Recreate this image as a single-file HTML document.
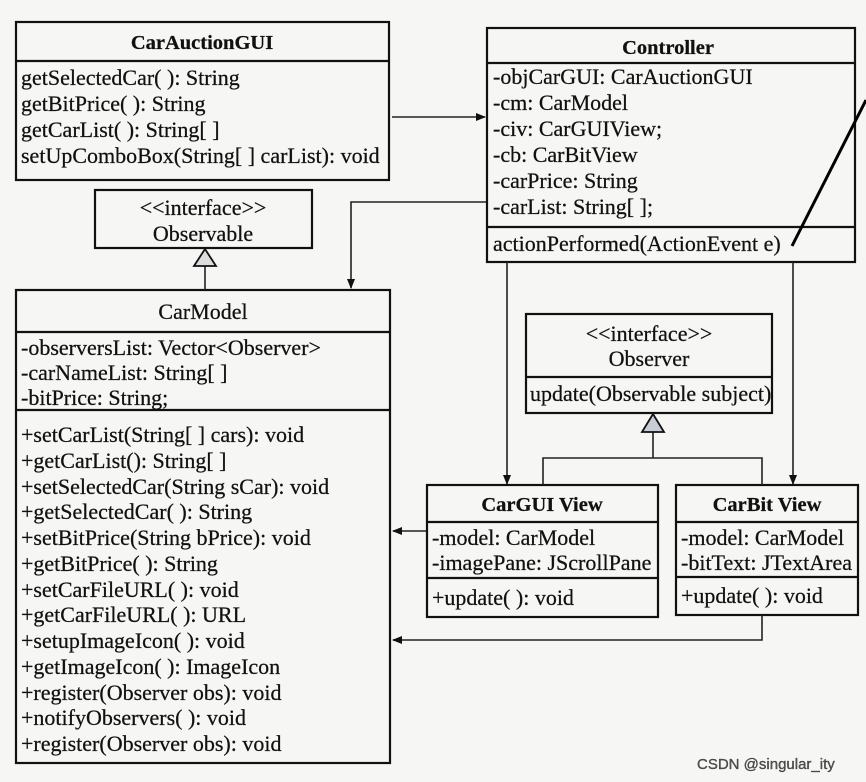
<!DOCTYPE html>
<html><head><meta charset="utf-8"><style>
html,body{margin:0;padding:0;background:#f6f6f4;}
svg{display:block}
text{font-family:"Liberation Serif",serif;font-size:22px;fill:#111;stroke:#111;stroke-width:0.25;}
.b{font-weight:bold;font-size:20.5px}
</style></head><body>
<svg width="866" height="782" viewBox="0 0 866 782" xmlns="http://www.w3.org/2000/svg">
<defs><marker id="a" markerWidth="10" markerHeight="8" refX="9" refY="4" orient="auto" markerUnits="userSpaceOnUse"><path d="M0,0 L10,4 L0,8 Z" fill="#111"/></marker></defs>
<g fill="none" stroke="#111" stroke-width="2.2">
<rect x="16" y="22" width="373" height="158"/><line x1="16" y1="61" x2="389" y2="61"/>
<rect x="487" y="28" width="368" height="234"/><line x1="487" y1="63" x2="855" y2="63"/><line x1="487" y1="227" x2="855" y2="227"/>
<rect x="95" y="190" width="217" height="58"/>
<rect x="16" y="290" width="374" height="473"/><line x1="16" y1="332" x2="390" y2="332"/><line x1="16" y1="410" x2="390" y2="410"/>
<rect x="526" y="314" width="246" height="99"/><line x1="526" y1="377" x2="772" y2="377"/>
<rect x="427" y="485" width="231" height="132"/><line x1="427" y1="522" x2="658" y2="522"/><line x1="427" y1="578" x2="658" y2="578"/>
<rect x="676" y="485" width="182" height="130"/><line x1="676" y1="522" x2="858" y2="522"/><line x1="676" y1="577" x2="858" y2="577"/>
</g>
<g fill="none" stroke="#222" stroke-width="1.6">
<line x1="392" y1="117" x2="485" y2="117" marker-end="url(#a)"/>
<polyline points="486,202 351,202 351,288" marker-end="url(#a)"/>
<line x1="507" y1="262" x2="507" y2="484" marker-end="url(#a)"/>
<line x1="793" y1="262" x2="793" y2="484" marker-end="url(#a)"/>
<line x1="426" y1="531" x2="393" y2="531" marker-end="url(#a)"/>
<polyline points="762,615 762,640 393,640" marker-end="url(#a)"/>
<line x1="205" y1="290" x2="205" y2="266"/>
<polyline points="543,485 543,458 762,458 762,485"/>
<line x1="653" y1="458" x2="653" y2="432"/>
</g>
<path d="M205,249 L194,266 L216,266 Z" fill="#ddd" stroke="#111" stroke-width="1.8"/>
<path d="M653,414 L642,432 L664,432 Z" fill="#c8ccd6" stroke="#111" stroke-width="1.8"/>
<line x1="866" y1="100" x2="792" y2="246" stroke="#000" stroke-width="3"/>
<g>
<text x="202" y="49" text-anchor="middle" class="b">CarAuctionGUI</text>
<text x="21" y="85">getSelectedCar( ): String</text>
<text x="21" y="111">getBitPrice( ): String</text>
<text x="21" y="137">getCarList( ): String[ ]</text>
<text x="21" y="163">setUpComboBox(String[ ] carList): void</text>

<text x="668" y="54" text-anchor="middle" class="b">Controller</text>
<text x="493" y="84">-objCarGUI: CarAuctionGUI</text>
<text x="493" y="110">-cm: CarModel</text>
<text x="493" y="136">-civ: CarGUIView;</text>
<text x="493" y="162">-cb: CarBitView</text>
<text x="493" y="188">-carPrice: String</text>
<text x="493" y="214">-carList: String[ ];</text>
<text x="493" y="251">actionPerformed(ActionEvent e)</text>

<text x="203" y="215" text-anchor="middle">&lt;&lt;interface&gt;&gt;</text>
<text x="203" y="241" text-anchor="middle">Observable</text>

<text x="203" y="319" text-anchor="middle">CarModel</text>
<text x="21" y="355">-observersList: Vector&lt;Observer&gt;</text>
<text x="21" y="380">-carNameList: String[ ]</text>
<text x="21" y="405">-bitPrice: String;</text>
<text x="21" y="442">+setCarList(String[ ] cars): void</text>
<text x="21" y="468">+getCarList(): String[ ]</text>
<text x="21" y="494">+setSelectedCar(String sCar): void</text>
<text x="21" y="519">+getSelectedCar( ): String</text>
<text x="21" y="545">+setBitPrice(String bPrice): void</text>
<text x="21" y="571">+getBitPrice( ): String</text>
<text x="21" y="597">+setCarFileURL( ): void</text>
<text x="21" y="622">+getCarFileURL( ): URL</text>
<text x="21" y="648">+setupImageIcon( ): void</text>
<text x="21" y="674">+getImageIcon( ): ImageIcon</text>
<text x="21" y="700">+register(Observer obs): void</text>
<text x="21" y="725">+notifyObservers( ): void</text>
<text x="21" y="751">+register(Observer obs): void</text>

<text x="649" y="341" text-anchor="middle">&lt;&lt;interface&gt;&gt;</text>
<text x="649" y="366" text-anchor="middle">Observer</text>
<text x="530" y="401">update(Observable subject)</text>

<text x="542" y="511" text-anchor="middle" class="b">CarGUI View</text>
<text x="432" y="545">-model: CarModel</text>
<text x="432" y="570">-imagePane: JScrollPane</text>
<text x="432" y="605">+update( ): void</text>

<text x="767" y="511" text-anchor="middle" class="b">CarBit View</text>
<text x="681" y="545">-model: CarModel</text>
<text x="681" y="570">-bitText: JTextArea</text>
<text x="681" y="603">+update( ): void</text>
</g>
<text x="697" y="769" style="font-family:'Liberation Sans',sans-serif;font-size:15px;fill:#555">CSDN @singular_ity</text>
</svg>
</body></html>
